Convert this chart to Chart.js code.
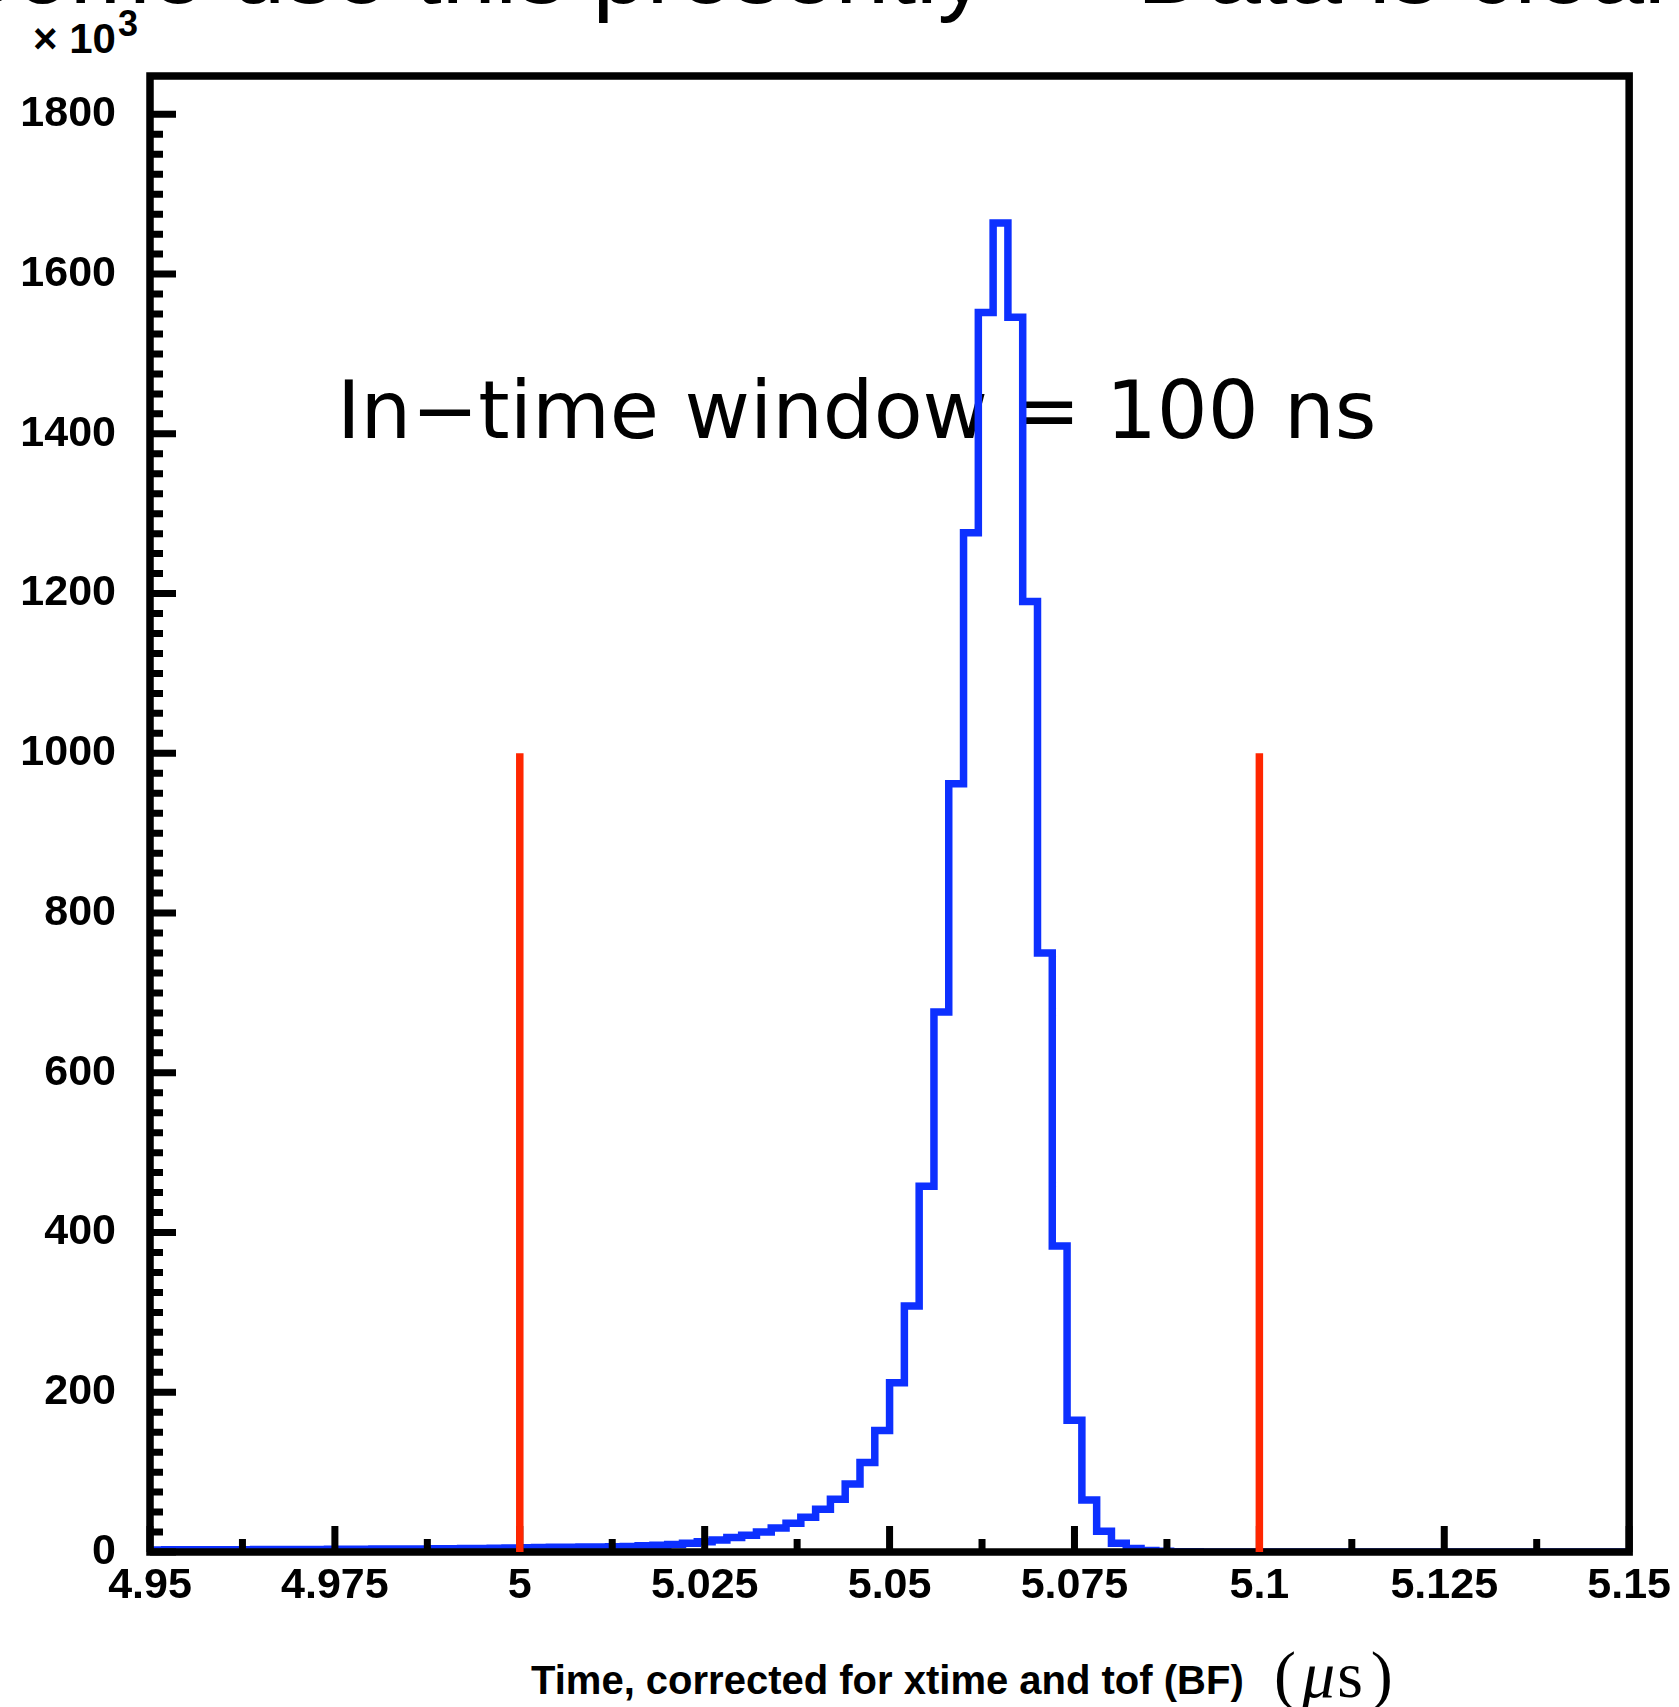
<!DOCTYPE html>
<html lang="en">
<head>
<meta charset="utf-8">
<title>In-time window</title>
<script src="https://cdn.jsdelivr.net/npm/chart.js@4.4.1/dist/chart.umd.min.js"></script>
<style>
    html, body { margin: 0; padding: 0; background: #fff; }
    body { width: 1679px; height: 1707px; position: relative; overflow: hidden; }
    #grafico-tiempo { position: absolute; left: 0; top: 0; z-index: 2; }
    .texto { position: absolute; white-space: nowrap; color: #000; }
    #titulo { left: -49px; top: -79px; font: 97px/1 "Liberation Sans", sans-serif; }
    #anotacion { left: 337px; top: 371px; font: 80px/1 "DejaVu Sans", sans-serif; z-index: 1; }
    #exponente { left: 33px; top: 18px; font: bold 42px/1 "Liberation Sans", sans-serif; }
    #exponente sup { font-size: 36px; position: relative; top: -17px; vertical-align: baseline; margin-left: 2px; }
    #titulo-x { left: 531px; top: 1660px; font: bold 40px/1 "Liberation Sans", sans-serif; }
    #unidad { left: 1274px; top: 1642px; font: 66px/1 "Liberation Serif", serif; }
    #unidad i { margin: 0 2px 0 6px; }
    #unidad .cierre { margin-left: 8px; }
</style>
</head>
<body>
<div id="titulo" class="texto">Some use this presently — Data is clean</div>
<div id="anotacion" class="texto">In−time window = 100 ns</div>
<div id="exponente" class="texto">× 10<sup>3</sup></div>
<div id="titulo-x" class="texto">Time, corrected for xtime and tof (BF)</div>
<div id="unidad" class="texto">(<i>μ</i>s<span class="cierre">)</span></div>
<canvas id="grafico-tiempo" width="1679" height="1707"></canvas>

<script>
'use strict';

// Histograma: 100 bins de 2 ns entre 4.95 y 5.15 us, cuentas en miles
const inicioBins = 4.95;
const anchoBin = 0.002;
const cuentas = [
    2.6, 2.7, 2.7, 2.8, 2.8, 2.9, 2.9, 3.0, 3.0, 3.1,
    3.1, 3.2, 3.3, 3.4, 3.5, 3.6, 3.7, 3.8, 3.9, 4.0,
    4.2, 4.3, 4.5, 4.7, 4.9, 5.2, 5.5, 5.8, 6.0, 6.3,
    6.4, 6.5, 6.9, 7.7, 8.5, 9.4, 11, 12.7, 15, 18,
    21, 25, 30, 36, 43.6, 53.6, 66, 85, 112, 152,
    212, 308, 458, 676, 962, 1276, 1552, 1664, 1546, 1190,
    750, 383, 165, 65, 26, 11, 4.5, 2, 0.8, 0.4,
    0.2, 0.1, 0.1, 0, 0, 0, 0, 0, 0, 0,
    0, 0, 0, 0, 0, 0, 0, 0, 0, 0,
    0, 0, 0, 0, 0, 0, 0, 0, 0, 0
];

// Ventana en tiempo (lineas rojas)
const cortes = [5.0, 5.1];
const alturaCorte = 1000;

// Ejes
const ejeX = { min: 4.95, max: 5.15, paso: 0.025, subdivisiones: 2 };
const ejeY = { min: 0, max: 1848, paso: 200, subdivisiones: 8 };

const AZUL = '#0d30ff';
const ROJO = '#ff2600';
const fuenteTicks = { family: '"Liberation Sans", sans-serif', size: 43, weight: 'bold' };

/**
 * Dibuja el marco y las marcas hacia dentro, al estilo ROOT,
 * justo despues del histograma y antes de las lineas rojas.
 */
const marcoRoot = {
    id: 'marcoRoot',
    afterDatasetDraw(chart, args) {
        if (args.index !== 2) {
            return;
        }
        const { ctx, chartArea: a, scales: { x, y } } = chart;
        ctx.save();
        ctx.strokeStyle = '#000';
        ctx.lineWidth = 7;
        ctx.lineCap = 'butt';
        ctx.beginPath();

        y.ticks.forEach((t, i) => {
            const py = y.getPixelForValue(t.value);
            ctx.moveTo(a.left, py);
            ctx.lineTo(a.left + 26, py);
            if (i < y.ticks.length - 1) {
                const d = (y.ticks[i + 1].value - t.value) / ejeY.subdivisiones;
                for (let k = 1; k < ejeY.subdivisiones; k++) {
                    const pm = y.getPixelForValue(t.value + k * d);
                    ctx.moveTo(a.left, pm);
                    ctx.lineTo(a.left + 13, pm);
                }
            }
        });

        x.ticks.forEach((t, i) => {
            const px = x.getPixelForValue(t.value);
            ctx.moveTo(px, a.bottom);
            ctx.lineTo(px, a.bottom - 26);
            if (i < x.ticks.length - 1) {
                const d = (x.ticks[i + 1].value - t.value) / ejeX.subdivisiones;
                for (let k = 1; k < ejeX.subdivisiones; k++) {
                    const pm = x.getPixelForValue(t.value + k * d);
                    ctx.moveTo(pm, a.bottom);
                    ctx.lineTo(pm, a.bottom - 13);
                }
            }
        });
        ctx.stroke();

        ctx.lineWidth = 7.5;
        ctx.lineJoin = 'miter';
        ctx.strokeRect(a.left, a.top, a.right - a.left, a.bottom - a.top);
        ctx.restore();
    }
};

function cargarGrafico() {
    const ctx = document.getElementById('grafico-tiempo').getContext('2d');

    const puntosHisto = cuentas.map((c, i) => ({ x: inicioBins + i * anchoBin, y: c }));
    puntosHisto.push({ x: inicioBins + cuentas.length * anchoBin, y: cuentas[cuentas.length - 1] });

    // Las lineas rojas van primero en la lista: Chart.js las pinta encima
    const datasets = cortes.map(t => ({
        data: [{ x: t, y: 0 }, { x: t, y: alturaCorte }],
        borderColor: ROJO,
        borderWidth: 7.5,
        pointRadius: 0,
        fill: false
    }));

    datasets.push({
        data: puntosHisto,
        borderColor: AZUL,
        borderWidth: 7.5,
        stepped: true,
        pointRadius: 0,
        fill: false
    });

    new Chart(ctx, {
        type: 'line',
        data: { datasets: datasets },
        options: {
            responsive: false,
            animation: false,
            events: [],
            layout: { padding: { top: 76, right: 49, left: 0, bottom: 0 } },
            plugins: { legend: { display: false }, tooltip: { enabled: false } },
            scales: {
                x: {
                    type: 'linear',
                    min: ejeX.min,
                    max: ejeX.max,
                    grid: { display: false, drawTicks: false },
                    border: { display: false },
                    afterFit: s => { s.height = 155; },
                    ticks: {
                        stepSize: ejeX.paso,
                        autoSkip: false,
                        maxRotation: 0,
                        padding: 8,
                        color: '#000',
                        font: fuenteTicks,
                        callback: v => String(+v.toFixed(3))
                    }
                },
                y: {
                    type: 'linear',
                    min: ejeY.min,
                    max: ejeY.max,
                    grid: { display: false, drawTicks: false },
                    border: { display: false },
                    afterFit: s => { s.width = 150; },
                    ticks: {
                        stepSize: ejeY.paso,
                        includeBounds: false,
                        padding: 34,
                        color: '#000',
                        font: fuenteTicks,
                        callback: v => String(v)
                    }
                }
            }
        },
        plugins: [marcoRoot]
    });
}

cargarGrafico();
</script>
</body>
</html>
